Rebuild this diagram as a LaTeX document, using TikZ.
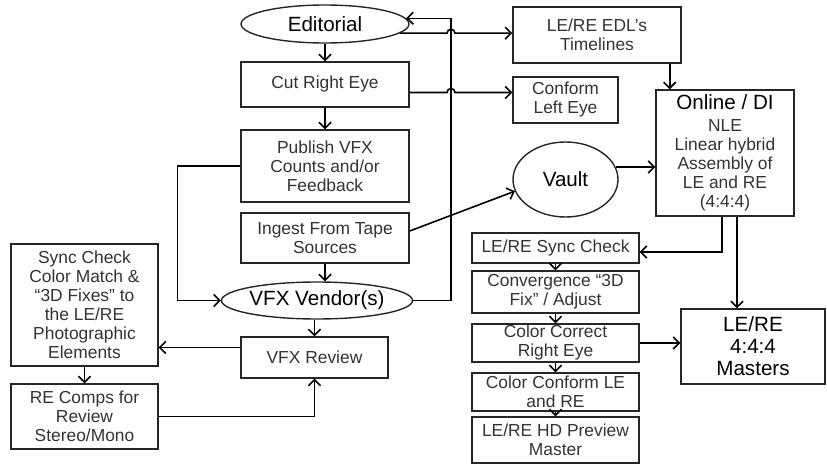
\documentclass[tikz,border=0pt]{standalone}
\usepackage{fontspec}
\setmainfont{Liberation Sans}
\usetikzlibrary{shapes.geometric,arrows.meta,calc}

\newcommand\boxfont{\fontsize{8.7}{9.5}\selectfont}
\newcommand\headfont{\fontsize{10.3}{11}\selectfont}

\begin{document}
\begin{tikzpicture}[x=0.5pt,y=-0.5pt,
  box/.style={draw=black!85, line width=0.7pt, rectangle, align=center, inner sep=0pt, font=\boxfont, text=black!80},
  oval/.style={draw=black!85, line width=0.7pt, ellipse, align=center, inner sep=0pt, font=\headfont},
  arr/.style={-{Straight Barb[length=3pt,width=6pt]}, line width=0.8pt}]
  \useasboundingbox (0,0) rectangle (827,466);

  % Middle column
  \node[oval, minimum width=84pt, minimum height=19pt] (edit) at (325,24) {Editorial};
  \node[box, minimum width=84pt, minimum height=22.5pt] (cut) at (325,84.5) {Cut Right Eye};
  \node[box, minimum width=84pt, minimum height=36pt] (publish) at (325,166) {Publish VFX\\Counts and/or\\Feedback};
  \node[box, minimum width=84pt, minimum height=25pt] (ingest) at (325,238) {Ingest From Tape\\Sources};
  \node[oval, minimum width=92pt, minimum height=18.5pt] (vendor) at (317,300.5) {VFX Vendor(s)};
  \node[box, minimum width=73.5pt, minimum height=20.5pt] (review) at (314.5,357.5) {VFX Review};

  % Left column
  \node[box, minimum width=73.5pt, minimum height=61pt] (sync) at (84.5,305) {Sync Check\\Color Match \&\\“3D Fixes” to\\the LE/RE\\Photographic\\Elements};
  \node[box, minimum width=73.5pt, minimum height=32.5pt] (comps) at (84.5,416.5) {RE Comps for\\Review\\Stereo/Mono};

  % Right part
  \node[box, minimum width=84pt, minimum height=28pt] (edl) at (597,35) {LE/RE EDL’s\\Timelines};
  \node[box, minimum width=52.5pt, minimum height=23pt] (conform) at (565.5,100) {Conform\\Left Eye};
  \node[oval, minimum width=52.5pt, minimum height=37.5pt] (vault) at (565.5,179.5) {Vault};
  \node[box, minimum width=69pt, minimum height=63pt] (online) at (725,153) {{\headfont\color{black}Online / DI}\\[1.5pt]NLE\\Linear hybrid\\Assembly of\\LE and RE\\(4:4:4)};
  \node[box, minimum width=83.5pt, minimum height=15pt] (lrsync) at (555.5,248) {LE/RE Sync Check};
  \node[box, minimum width=83.5pt, minimum height=21pt] (conv) at (555.5,292) {Convergence “3D\\Fix” / Adjust};
  \node[box, minimum width=83.5pt, minimum height=19pt] (cc) at (555.5,343) {Color Correct\\Right Eye};
  \node[box, minimum width=83.5pt, minimum height=19pt] (colconf) at (555.5,392) {Color Conform LE\\and RE};
  \node[box, minimum width=83.5pt, minimum height=23pt] (hd) at (555.5,440) {LE/RE HD Preview\\Master};
  \node[box, minimum width=72pt, minimum height=37.5pt, font=\headfont, text=black] (masters) at (753,346.5) {LE/RE\\4:4:4\\Masters};

  \coordinate (bus) at (451,18);

  % Connectors
  \draw[arr] (edit) -- (cut);
  \draw[arr] (cut) -- (publish);
  \draw[arr] (ingest.south) -- (ingest.south |- vendor.north);
  \draw[arr] (review.north |- vendor.south) -- (review.north);
  \draw[arr] (publish.west) -- ++(-63,0) |- (vendor.west);
  \draw[arr] ([yshift=5pt]review.west) -- ([yshift=5pt]review.west -| sync.east);
  \draw[arr] (sync) -- (comps);
  \draw[arr] (comps.east) -| (review.south);
  \draw[arr] (vendor.east) -| (bus |- edit.4) -- (edit.4);
  \draw[arr] (edit.-7) -- ($(edit.-7 -| bus)+(-4,0)$) arc[start angle=180, end angle=0, radius=2pt] -- (edit.-7 -| edl.west);
  \draw[arr] ([yshift=-4pt]cut.east) -- ($([yshift=-4pt]cut.east -| bus)+(-4,0)$) arc[start angle=180, end angle=0, radius=2pt] -- ([yshift=-4pt]cut.east -| conform.west);
  \draw[arr] ([xshift=-6pt]edl.south east) -- ([xshift=-6pt]edl.south east |- online.north);
  \draw[arr] (vault.14) -- (vault.14 -| online.west);
  \draw[arr] ([yshift=3.5pt]ingest.east) -- (vault.193);
  \draw[arr] ([xshift=-1.5pt]online.south) |- ([yshift=-2pt]lrsync.east);
  \draw[arr] ([xshift=6pt]online.south) -- ([xshift=6pt]online.south |- masters.north);
  \draw[arr] (lrsync) -- (conv);
  \draw[arr] (conv) -- (cc);
  \draw[arr] (cc) -- (colconf);
  \draw[arr] (colconf) -- (hd);
  \draw[arr] (cc.east) -- (cc.east -| masters.west);
\end{tikzpicture}
\end{document}
